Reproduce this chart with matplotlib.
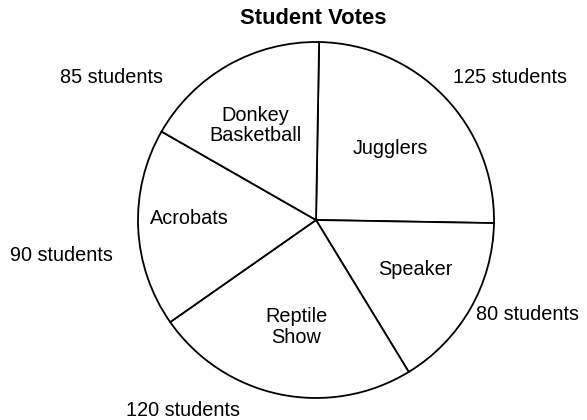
import matplotlib
matplotlib.use("Agg")
import matplotlib.pyplot as plt

# Datos de la votación
actividades = ['Jugglers', 'Speaker', 'Reptile\nShow', 'Acrobats', 'Donkey\nBasketball']
votos = [125, 80, 120, 90, 85]
etiquetas_votos = ['125 students', '80 students', '120 students', '90 students', '85 students']

plt.rcParams['font.family'] = ['Liberation Sans', 'DejaVu Sans']

fig = plt.figure(figsize=(5.87, 4.2), dpi=100)
# circulo de radio 178 px centrado en (316, 220)
ax = fig.add_axes([138 / 587, 22 / 420, 356 / 587, 356 / 420])

ax.pie(votos, startangle=89, counterclock=False, radius=1,
       colors=['white'] * len(votos),
       wedgeprops={'edgecolor': 'black', 'linewidth': 1.3})
ax.set_xlim(-1, 1)
ax.set_ylim(-1, 1)
ax.set_aspect('equal')
ax.axis('off')

# posiciones de las etiquetas (en unidades del radio)
pos_dentro = [(0.42, 0.40), (0.56, -0.28), (-0.11, -0.60), (-0.71, 0.01), (-0.34, 0.53)]
pos_fuera = [(1.09, 0.80), (1.19, -0.53), (-0.75, -1.07), (-1.43, -0.20), (-1.15, 0.80)]

for nombre, (x, y) in zip(actividades, pos_dentro):
    ax.text(x, y, nombre, ha='center', va='center', fontsize=14.3, linespacing=1.1)
for texto, (x, y) in zip(etiquetas_votos, pos_fuera):
    ax.text(x, y, texto, ha='center', va='center', fontsize=14.3, clip_on=False)

fig.text(313 / 587, 1 - 18 / 420, 'Student Votes', ha='center', va='center',
         fontsize=15.8, fontweight='bold')

fig.savefig('out.png', dpi=100, facecolor='white')
